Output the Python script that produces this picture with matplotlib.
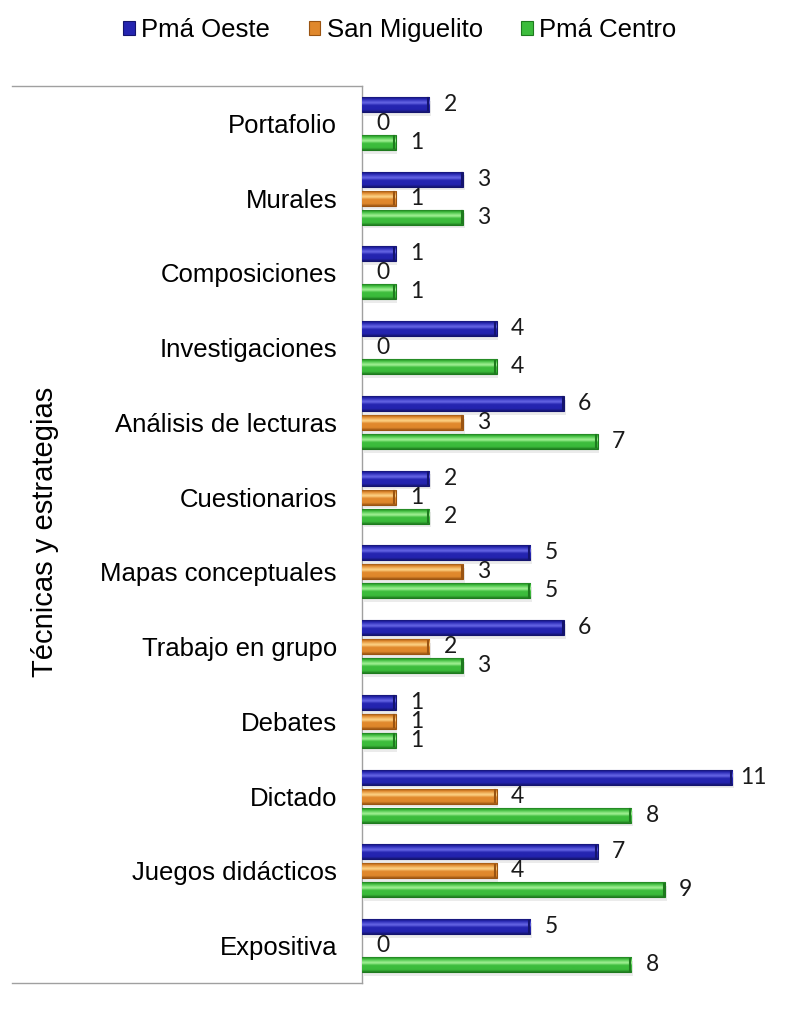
import matplotlib
matplotlib.use("Agg")
import matplotlib.pyplot as plt
import numpy as np
from matplotlib.lines import Line2D
from matplotlib.patches import Patch
from matplotlib.colors import LinearSegmentedColormap

categories = ["Portafolio", "Murales", "Composiciones", "Investigaciones",
              "Análisis de lecturas", "Cuestionarios", "Mapas conceptuales",
              "Trabajo en grupo", "Debates", "Dictado", "Juegos didácticos",
              "Expositiva"]
pma_oeste = [2, 3, 1, 4, 6, 2, 5, 6, 1, 11, 7, 5]
san_miguelito = [0, 1, 0, 0, 3, 1, 3, 2, 1, 4, 4, 0]
pma_centro = [1, 3, 1, 4, 7, 2, 5, 3, 1, 8, 9, 8]
series_names = ["Pmá Oeste", "San Miguelito", "Pmá Centro"]
axis_title = "Técnicas y estrategias"

# (edge/dark, main, highlight)
palettes = [("#14146e", "#2424b0", "#6a6ae8"),
            ("#9a5412", "#e0882c", "#ffd88c"),
            ("#1e7a1e", "#3cbc3c", "#a8f49a")]

W, H = 792, 1009
fig = plt.figure(figsize=(W / 100, H / 100), dpi=100)
ax_l, ax_r, ax_t, ax_b = 362, 766, 86, 983
ax = fig.add_axes([ax_l / W, 1 - ax_b / H, (ax_r - ax_l) / W, (ax_b - ax_t) / H])

n = len(categories)
y = np.arange(n)
offsets = [-0.255, 0.0, 0.255]
bh = 0.2
label_font = ["Lato", "DejaVu Sans"]
sans = ["Liberation Sans", "DejaVu Sans"]

grad = np.linspace(0, 1, 64).reshape(-1, 1)

for data, off, (dark, main, hi) in zip([pma_oeste, san_miguelito, pma_centro], offsets, palettes):
    cmap = LinearSegmentedColormap.from_list("g", [(0, dark), (0.12, main), (0.38, hi), (0.55, main), (0.85, main), (1, dark)])
    lws = [0.8 if v > 0 else 0 for v in data]
    bars = ax.barh(y + off, data, height=bh, color=main, edgecolor=dark, linewidth=lws, zorder=3)
    for b, v in zip(bars, data):
        if v > 0:
            ax.barh(b.get_y() + bh / 2 + 0.05, v, left=0.05, height=bh, color="#000000", alpha=0.08, zorder=2, linewidth=0)
            x0, y0 = b.get_x(), b.get_y()
            im = ax.imshow(grad, cmap=cmap, aspect="auto", extent=[x0, x0 + v, y0 + bh, y0],
                           zorder=3.5, interpolation="bicubic")
            im.set_clip_path(b)
            ax.plot([v - 0.04, v - 0.04], [y0 + 0.02, y0 + bh - 0.02], color=dark, lw=1.5, zorder=4)
        ax.text(v + 0.62, b.get_y() + bh / 2, str(v), ha="center", va="center",
                fontsize=16.5, family=label_font, color="#1a1a1a", zorder=5)

ax.set_xlim(0, 12)
ax.set_ylim(n - 0.5, -0.5)
ax.set_yticks(y)
ax.set_yticklabels(categories, fontsize=18.5, family=sans)
ax.tick_params(axis="y", length=0, pad=18)
ax.set_xticks([])
for s in ["top", "right", "bottom"]:
    ax.spines[s].set_visible(False)
ax.spines["left"].set_color("#a0a0a0")
ax.spines["left"].set_linewidth(1.0)

# side wall / floor lines
fig.add_artist(Line2D([12 / W, ax_l / W], [1 - 86 / H, 1 - 86 / H], color="#a0a0a0", lw=1.0))
fig.add_artist(Line2D([12 / W, ax_l / W], [1 - 983 / H, 1 - 983 / H], color="#a0a0a0", lw=1.0))

fig.text(45 / W, 1 - 532 / H, axis_title, rotation=90, ha="center", va="center",
         fontsize=21, family=sans)

handles = [Patch(facecolor=p[1], edgecolor=p[0], linewidth=0.8) for p in palettes]
fig.legend(handles, series_names, loc="center", bbox_to_anchor=(400 / W, 1 - 30 / H), ncol=3,
           frameon=False, prop={"family": sans, "size": 18.5},
           handlelength=0.45, handleheight=0.45, handletextpad=0.25, columnspacing=1.5)

fig.savefig("out.png", dpi=100)
